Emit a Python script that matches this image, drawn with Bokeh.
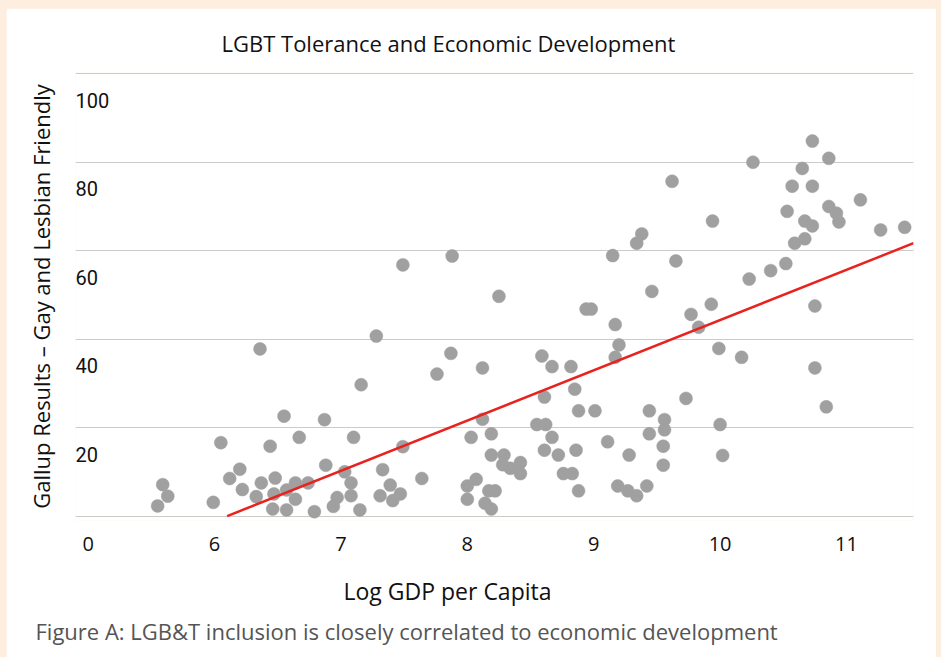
from bokeh.plotting import figure
from bokeh.models import Range1d, LinearAxis, FixedTicker, Title, ColumnDataSource, Spacer
from bokeh.layouts import column, row
from bokeh.embed import file_html
from bokeh.resources import INLINE

# ---- data ----
log_gdp = [7.49, 7.88, 8.25, 9.62, 9.94, 9.38, 9.34, 9.15, 9.65, 9.46,
           9.93, 10.26, 10.73, 10.86, 10.65, 10.57, 10.73, 11.11, 10.53, 10.86,
           10.92, 10.94, 10.67, 10.73, 11.27, 11.46, 10.67, 10.59, 10.52, 10.40,
           10.23, 10.75, 9.99, 10.17, 10.75, 10.84, 10.00, 10.02, 8.94, 8.98,
           9.77, 9.83, 9.17, 9.20, 9.17, 8.59, 8.67, 8.82, 8.61, 8.85,
           9.73, 8.88, 9.01, 9.44, 9.56, 8.55, 8.62, 9.56, 9.44, 8.67,
           9.11, 9.55, 8.61, 8.86, 8.72, 9.28, 9.55, 8.29, 8.28, 8.34,
           8.42, 8.42, 8.76, 8.83, 8.88, 9.19, 9.27, 9.34, 9.42, 7.28,
           7.87, 7.76, 8.12, 7.16, 8.12, 6.87, 6.55, 6.67, 7.10, 8.19,
           8.03, 7.49, 6.88, 7.03, 7.33, 7.08, 7.64, 7.39, 8.07, 8.00,
           6.64, 6.74, 6.64, 6.97, 6.94, 7.08, 7.31, 7.47, 7.41, 8.17,
           8.22, 8.00, 8.14, 8.19, 6.79, 7.15, 6.57, 8.19, 6.36, 6.05,
           6.44, 6.20, 6.12, 5.59, 5.63, 5.55, 5.99, 6.22, 6.37, 6.48,
           6.33, 6.47, 6.57, 6.46]
gallup = [56.8, 58.8, 49.7, 75.7, 66.7, 63.8, 61.7, 58.9, 57.7, 50.8,
          47.9, 80.0, 84.8, 80.9, 78.6, 74.6, 74.6, 71.5, 68.9, 70.0,
          68.5, 66.5, 66.7, 65.6, 64.7, 65.3, 62.7, 61.7, 57.1, 55.5,
          53.6, 47.5, 37.9, 35.9, 33.5, 24.7, 20.7, 13.7, 46.8, 46.8,
          45.6, 42.7, 43.3, 38.7, 35.9, 36.2, 33.8, 33.8, 26.9, 28.7,
          26.6, 23.8, 23.8, 23.8, 21.8, 20.7, 20.7, 19.5, 18.6, 17.8,
          16.8, 15.8, 14.9, 14.9, 13.8, 13.8, 11.5, 13.8, 11.6, 10.8,
          12.1, 9.6, 9.6, 9.6, 5.7, 6.8, 5.7, 4.6, 6.8, 40.7,
          36.8, 32.1, 33.5, 29.7, 21.9, 21.8, 22.6, 17.8, 17.8, 18.6,
          17.8, 15.7, 11.5, 10.0, 10.5, 7.5, 8.5, 7.0, 8.3, 6.8,
          7.5, 7.5, 3.8, 4.2, 2.2, 4.6, 4.6, 5.0, 3.5, 5.7,
          5.7, 3.8, 2.9, 1.6, 1.0, 1.4, 1.4, 13.8, 37.8, 16.6,
          15.8, 10.6, 8.5, 7.1, 4.5, 2.3, 3.1, 6.0, 7.5, 8.6,
          4.4, 5.0, 5.9, 1.6]
trend_x = [6.10, 11.53]
trend_y = [0.0, 61.7]

x_ticks = [5, 6, 7, 8, 9, 10, 11]
x_tick_overrides = {5: "0"}
grid_y_ticks = [0, 20, 40, 60, 80, 100]
y_label_ticks = [20, 40, 60, 80, 100]

title_text = "LGBT Tolerance and Economic Development"
x_title = "Log GDP per Capita"
y_title = "Gallup Results \u2013 Gay and Lesbian Friendly"
caption = "Figure A: LGB&T inclusion is closely correlated to economic development"

# ---- styles ----
FONT = "Open Sans"
PEACH = "#FDEEDF"
X0, X1 = 4.90, 11.53
Y0, Y1 = -1.0, 100.3
LABEL_SHIFT = 6.0

p = figure(frame_width=838, frame_height=448,
           x_range=Range1d(X0, X1), y_range=Range1d(Y0, Y1),
           min_border_left=69, min_border_right=23, min_border_top=64, min_border_bottom=137,
           output_backend="svg", toolbar_location=None,
           background_fill_color="white", border_fill_color="white",
           outline_line_color=None)

# grid
p.xgrid.visible = False
p.ygrid.ticker = FixedTicker(ticks=grid_y_ticks)
p.ygrid.grid_line_color = "#CBCBCB"
p.ygrid.grid_line_width = 1

# main y axis: only the axis title
p.yaxis.ticker = FixedTicker(ticks=[])
p.yaxis.axis_line_color = None
p.yaxis.major_tick_line_color = None
p.yaxis.minor_tick_line_color = None
p.yaxis.major_tick_out = 0
p.yaxis.major_label_standoff = 0
p.yaxis.axis_label = y_title
p.yaxis.axis_label_text_font = FONT
p.yaxis.axis_label_text_font_size = "22px"
p.yaxis.axis_label_text_font_style = "normal"
p.yaxis.axis_label_text_color = "#111111"
p.yaxis.axis_label_standoff = 20

# y tick labels drawn inside the frame, left aligned, slightly below grid lines
p.extra_y_ranges = {"labels": Range1d(Y0 + LABEL_SHIFT, Y1 + LABEL_SHIFT)}
lab_axis = LinearAxis(y_range_name="labels", fixed_location=X0,
                      ticker=FixedTicker(ticks=y_label_ticks),
                      axis_line_color=None, major_tick_line_color=None,
                      minor_tick_line_color=None, major_tick_out=0, major_tick_in=0,
                      major_label_standoff=0,
                      major_label_text_font="Roboto",
                      major_label_text_font_size="20px",
                      major_label_text_color="#111111")
p.add_layout(lab_axis, "right")

# x axis
p.xaxis.ticker = FixedTicker(ticks=x_ticks)
p.xaxis.major_label_overrides = x_tick_overrides
p.xaxis.axis_line_color = None
p.xaxis.major_tick_line_color = None
p.xaxis.minor_tick_line_color = None
p.xaxis.major_tick_out = 0
p.xaxis.major_label_standoff = 16
p.xaxis.major_label_text_font = FONT
p.xaxis.major_label_text_font_size = "20px"
p.xaxis.major_label_text_color = "#111111"
# invisible spacer label to leave room between tick labels and the axis title
p.xaxis.axis_label = " "
p.xaxis.axis_label_text_font_size = "10px"
p.xaxis.axis_label_standoff = 0
p.xaxis.axis_label_text_color = "white"

# titles
p.title.text = title_text
p.title.align = "left"
p.title.offset = 146
p.title.text_font = FONT
p.title.text_font_size = "22px"
p.title.text_font_style = "normal"
p.title.text_color = "#111111"
p.title.standoff = 29

xt = Title(text=x_title, align="left", offset=268, text_font=FONT,
           text_font_size="23px", text_font_style="normal", text_color="#111111",
           standoff=11)
p.add_layout(xt, "below")
cap = Title(text=caption, align="left", offset=-40, text_font=FONT,
            text_font_size="22px", text_font_style="normal", text_color="#555555",
            standoff=3)
p.add_layout(cap, "below")

# data
src = ColumnDataSource(dict(x=log_gdp, y=gallup))
p.scatter("x", "y", source=src, size=13, fill_color="#A0A0A0", line_color="#A0A0A0",
          line_width=0.5)
p.line(trend_x, trend_y, line_color="#E8231D", line_width=2.5)

page = column(Spacer(height=8, width=941),
              row(Spacer(width=6, height=649), p),
              spacing=0,
              styles={"background-color": PEACH})

open("out.html", "w").write(file_html(page, INLINE))
